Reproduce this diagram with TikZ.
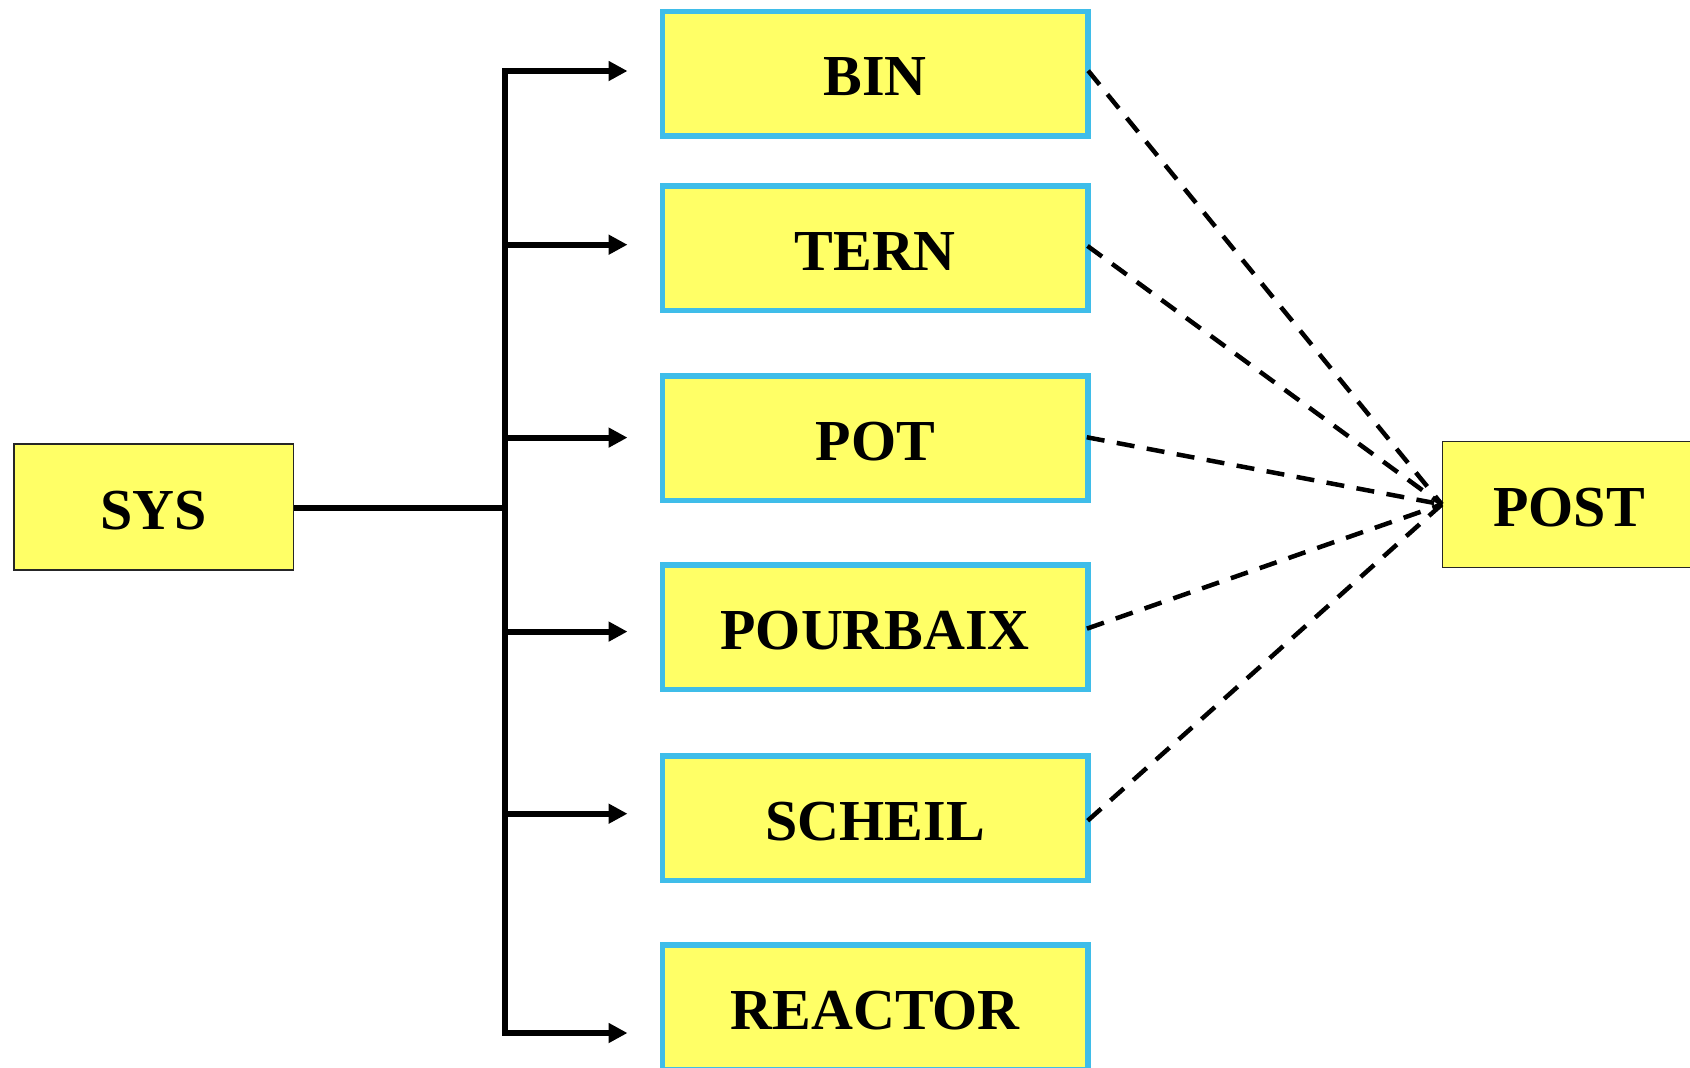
\documentclass[tikz,border=0pt]{standalone}
\usepackage{fontspec}
\setmainfont{Liberation Serif}
\usetikzlibrary{arrows.meta}

\definecolor{boxfill}{HTML}{FFFF66}
\definecolor{boxedge}{HTML}{3FBDE9}

\tikzset{
  label font/.style={font=\bfseries\fontsize{58}{58}\selectfont,
    text height=44pt, text depth=0pt},
  modbox/.style={label font, draw=boxedge, line width=5.5pt, fill=boxfill,
    minimum width=425.5pt, minimum height=124.5pt, inner sep=0pt},
  endbox/.style={label font, draw=black!85, line width=1.5pt, fill=boxfill,
    minimum height=125.9pt, inner sep=0pt},
  stem/.style={line width=6pt, line cap=rect},
  feed/.style={line width=6pt, -{Triangle[length=19pt,width=19pt]}},
  result/.style={line width=4.5pt, dash pattern=on 18pt off 12.5pt,
    shorten <=-4pt},
}

\begin{document}
\begin{tikzpicture}[x=1pt, y=-1pt]
  \clip (0,0) rectangle (1690,1068);
  \fill[white] (0,0) rectangle (1690,1068);

  % end points of the calculation flow
  \node[endbox, minimum width=279.2pt] (sys)  at (153.7,507) {SYS};
  \node[endbox, minimum width=252.8pt] (post) at (1569,504.4) {POST};

  % calculation modules
  \node[modbox] (bin)  at (875.2,73.8)  {BIN};
  \node[modbox] (tern) at (875.2,248.3) {TERN};
  \node[modbox] (pot)  at (875.2,438)   {POT};
  \node[modbox] (pour) at (875.2,627.3) {POURBAIX};
  \node[modbox] (sch)  at (875.2,818)   {SCHEIL};
  \node[modbox] (reac) at (875.2,1007)  {REACTOR};

  % branching trunk and arrow tips
  \coordinate (k1) at (504.5,71);
  \coordinate (k2) at (504.5,244.7);
  \coordinate (k3) at (504.5,437.6);
  \coordinate (k4) at (504.5,631.6);
  \coordinate (k5) at (504.5,813.7);
  \coordinate (k6) at (504.5,1033);
  \coordinate (ks) at (504.5,508.3);
  \foreach \i in {1,...,6} { \coordinate (t\i) at ([xshift=123pt]k\i); }

  \draw[stem] (k1) -- (k6);
  \draw[line width=6pt] (sys.east |- ks) -- (ks);
  \foreach \i in {1,...,6} { \draw[feed] (k\i) -- (t\i); }

  % results passed on to post-processing
  \foreach \m in {bin,tern,pot,pour,sch} { \draw[result] (\m.east) -- (post.west); }
\end{tikzpicture}
\end{document}
